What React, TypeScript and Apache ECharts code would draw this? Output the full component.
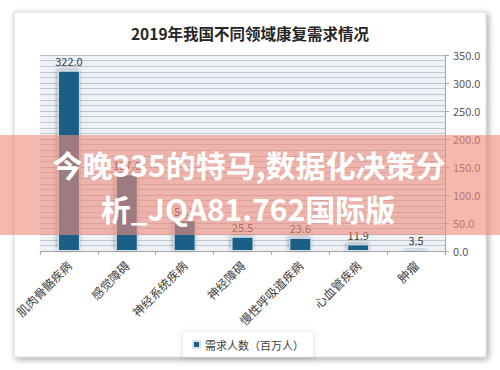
import React, { useEffect, useRef } from "react";
import * as echarts from "echarts";

const titleText = "2019年我国不同领域康复需求情况";
const categories = ["肌肉骨骼疾病", "感觉障碍", "神经系统疾病", "神经障碍", "慢性呼吸道疾病", "心血管疾病", "肿瘤"];
const demand = [322.0, 137.0, 54.5, 25.5, 23.6, 11.9, 3.5];
const seriesName = "需求人数（百万人）";
const bannerLines = ["今晚335的特马,数据化决策分", "析_JQA81.762国际版"];

export default function App() {
  const ref = useRef<HTMLDivElement>(null);
  useEffect(() => {
    if (!ref.current) return;
    const chart = echarts.init(ref.current, null, { renderer: "svg" });
    const font = '"Noto Sans CJK SC", "Noto Sans", sans-serif';
    chart.setOption({
      animation: false,
      backgroundColor: "#ffffff",
      textStyle: { fontFamily: font },
      title: {
        text: titleText,
        left: "center",
        top: 20,
        textStyle: { fontSize: 15.5, fontWeight: "bold", color: "#262626", fontFamily: font },
      },
      legend: {
        data: [seriesName],
        left: 183,
        top: 332,
        padding: [7, 9],
        itemWidth: 7,
        itemHeight: 7,
        icon: "rect",
        backgroundColor: "#ffffff",
        shadowBlur: 6,
        shadowColor: "rgba(0,0,0,0.18)",
        shadowOffsetX: 0,
        shadowOffsetY: 1,
        textStyle: { fontSize: 11, color: "#404040", fontFamily: font },
      },
      grid: {
        left: 40,
        right: 55,
        top: 55,
        bottom: 119,
        show: true,
        backgroundColor: "#eef2f7",
        borderWidth: 0,
      },
      xAxis: {
        type: "category",
        data: categories,
        axisLine: { lineStyle: { color: "#a6a6a6" } },
        axisTick: { show: true, length: 4, lineStyle: { color: "#a6a6a6" } },
        axisLabel: { rotate: 45, fontSize: 12, color: "#404040", margin: 12, fontFamily: font },
      },
      yAxis: {
        type: "value",
        position: "right",
        min: 0,
        max: 350,
        interval: 50,
        axisLine: { show: true, lineStyle: { color: "#a6a6a6" } },
        axisTick: { show: true, length: 4, lineStyle: { color: "#a6a6a6" } },
        axisLabel: {
          fontSize: 11,
          color: "#595959",
          margin: 8,
          formatter: (v: number) => v.toFixed(1),
        },
        splitLine: { show: true, lineStyle: { color: "#b9c2cd", width: 1 } },
        minorSplitLine: { show: true, lineStyle: { color: "#c0c8d2", width: 1 } },
        minorTick: { show: false, splitNumber: 5 },
      },
      series: [
        {
          name: seriesName,
          type: "bar",
          data: demand,
          barWidth: 22,
          itemStyle: {
            color: "#1d5f86",
            borderColor: "#cfe6f0",
            borderWidth: 1,
            shadowBlur: 4,
            shadowColor: "rgba(0,0,0,0.35)",
            shadowOffsetX: -1,
            shadowOffsetY: -1,
          },
          label: {
            show: true,
            position: "top",
            distance: 4,
            fontSize: 11,
            color: "#404040",
            formatter: (p: any) => Number(p.value).toFixed(1),
          },
        },
      ],
      graphic: [
        {
          type: "rect",
          z: -10,
          shape: { x: 14, y: 12, width: 472, height: 345 },
          style: {
            fill: "#ffffff",
            stroke: "#d9d9d9",
            lineWidth: 1,
            shadowBlur: 6,
            shadowOffsetX: 2,
            shadowOffsetY: 2,
            shadowColor: "rgba(0,0,0,0.35)",
          },
        },
        {
          type: "rect",
          z: 100,
          shape: { x: 0, y: 135, width: 500, height: 100 },
          style: { fill: "rgba(237,141,125,0.62)" },
        },
        {
          type: "text",
          z: 101,
          x: 249,
          y: 164,
          style: {
            text: bannerLines[0],
            align: "center",
            verticalAlign: "middle",
            font: 'bold 30px "Noto Sans CJK SC", sans-serif',
            fill: "#ffffff",
            shadowBlur: 4,
            shadowColor: "rgba(60,30,30,0.6)",
            shadowOffsetX: 1,
            shadowOffsetY: 1,
          },
        },
        {
          type: "text",
          z: 101,
          x: 248,
          y: 208,
          style: {
            text: bannerLines[1],
            align: "center",
            verticalAlign: "middle",
            font: 'bold 30px "Noto Sans CJK SC", sans-serif',
            fill: "#ffffff",
            shadowBlur: 4,
            shadowColor: "rgba(60,30,30,0.6)",
            shadowOffsetX: 1,
            shadowOffsetY: 1,
          },
        },
      ],
    });
    return () => chart.dispose();
  }, []);
  return (
    <div
      ref={ref}
      style={{ position: "fixed", left: 0, top: 0, width: 500, height: 370 }}
    />
  );
}
